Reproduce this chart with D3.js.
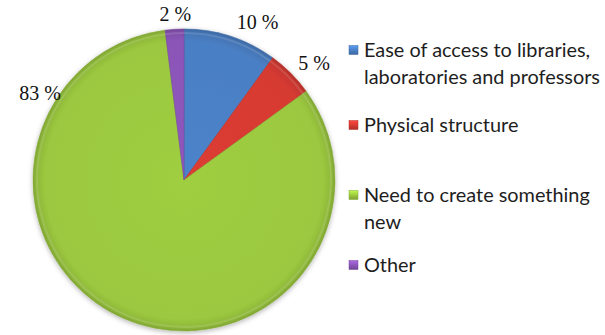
<!DOCTYPE html>
<html>
<head>
<meta charset="utf-8">
<script src="https://cdn.jsdelivr.net/npm/d3@7"></script>
<style>
  html, body { margin: 0; padding: 0; background: #fff; }
  svg { display: block; }
</style>
</head>
<body>
<svg id="chart" width="605" height="335"></svg>
<script>
// Survey answers, share of respondents (%)
const categories = [
  "Ease of access to libraries, laboratories and professors",
  "Physical structure",
  "Need to create something new",
  "Other"
];
const values = [10, 5, 83, 2];
const valueLabels = ["10 %", "5 %", "83 %", "2 %"];
// legend text broken into lines
const legendLines = [
  ["Ease of access to libraries,", "laboratories and professors"],
  ["Physical structure"],
  ["Need to create something", "new"],
  ["Other"]
];
const colors = ["#4a7fc4", "#d63a32", "#9bc83f", "#8b55b8"];

const svg = d3.select("#chart");
const cx = 184, cy = 180, R = 151;

const defs = svg.append("defs");

// soft shadow round the pie
const shadow = defs.append("filter").attr("id", "pieShadow")
  .attr("x", "-20%").attr("y", "-20%").attr("width", "140%").attr("height", "140%");
shadow.append("feDropShadow").attr("dx", 0).attr("dy", 1.5)
  .attr("stdDeviation", 2.5).attr("flood-color", "#000").attr("flood-opacity", 0.3);

// bevel-like shading: flat inside, darker at the rim
colors.forEach((c, i) => {
  const g = defs.append("radialGradient").attr("id", "sl" + i)
    .attr("gradientUnits", "userSpaceOnUse")
    .attr("cx", 0).attr("cy", 0).attr("r", R);
  const base = d3.color(c);
  g.append("stop").attr("offset", "0%").attr("stop-color", base.brighter(0.08));
  g.append("stop").attr("offset", "92%").attr("stop-color", base);
  g.append("stop").attr("offset", "98%").attr("stop-color", base.darker(0.25));
  g.append("stop").attr("offset", "100%").attr("stop-color", base.darker(0.55));

  const lg = defs.append("linearGradient").attr("id", "lg" + i)
    .attr("x1", 0).attr("y1", 0).attr("x2", 0).attr("y2", 1);
  lg.append("stop").attr("offset", "0%").attr("stop-color", base.brighter(0.6));
  lg.append("stop").attr("offset", "55%").attr("stop-color", base);
  lg.append("stop").attr("offset", "100%").attr("stop-color", base.darker(0.6));
});

const pie = d3.pie().value(d => d).sort(null);
const arcs = pie(values);
const arc = d3.arc().innerRadius(0).outerRadius(R);

const gPie = svg.append("g").attr("transform", `translate(${cx},${cy})`)
  .attr("filter", "url(#pieShadow)");

gPie.selectAll("path.slice").data(arcs).join("path")
  .attr("class", "slice")
  .attr("d", arc)
  .attr("fill", (d, i) => `url(#sl${i})`)
  .attr("stroke", (d, i) => d3.color(colors[i]).darker(0.4))
  .attr("stroke-width", 0.6)
  .attr("stroke-linejoin", "round");

// faint light band just inside the rim
gPie.selectAll("path.hl").data(arcs).join("path")
  .attr("class", "hl")
  .attr("d", d3.arc().innerRadius(R - 5).outerRadius(R - 3))
  .attr("fill", "#fff").attr("opacity", 0.12);

// value labels outside the rim: [angle in degrees from 12 o'clock, distance from centre]
const labelPlace = [[25, 174], [48, 175], [301, 168], [357, 166]];
svg.append("g").selectAll("text").data(arcs).join("text")
  .attr("x", (d, i) => cx + labelPlace[i][1] * Math.sin(labelPlace[i][0] * Math.PI / 180))
  .attr("y", (d, i) => cy - labelPlace[i][1] * Math.cos(labelPlace[i][0] * Math.PI / 180))
  .attr("text-anchor", "middle")
  .attr("dominant-baseline", "central")
  .attr("font-family", "'Liberation Serif', 'Times New Roman', serif")
  .attr("font-size", 20)
  .attr("fill", "#111")
  .text((d, i) => valueLabels[i]);

// legend
const legendX = 349, textX = 364;
const lineH = 27;
const groupTop = [57, 132, 202, 272];   // baseline of each entry's first line
const legendFont = "Lato, 'Open Sans', sans-serif";

// size the legend type so the longest line spans up to the right edge
const probe = svg.append("text").attr("font-family", legendFont).attr("font-size", 20)
  .text("laboratories and professors");
const fontSize = 20 * 236 / probe.node().getComputedTextLength();
probe.remove();

const lg = svg.append("g");
legendLines.forEach((lines, i) => {
  const base = d3.color(colors[i]);
  lg.append("rect")
    .attr("x", legendX).attr("y", groupTop[i] - 11.5)
    .attr("width", 9).attr("height", 9)
    .attr("fill", `url(#lg${i})`)
    .attr("stroke", base.darker(0.5)).attr("stroke-width", 0.5);
  const t = lg.append("text")
    .attr("font-family", legendFont)
    .attr("font-size", fontSize)
    .attr("fill", "#1e1e1e");
  lines.forEach((ln, j) => {
    t.append("tspan").attr("x", textX).attr("y", groupTop[i] + j * lineH).text(ln);
  });
});
</script>
</body>
</html>
